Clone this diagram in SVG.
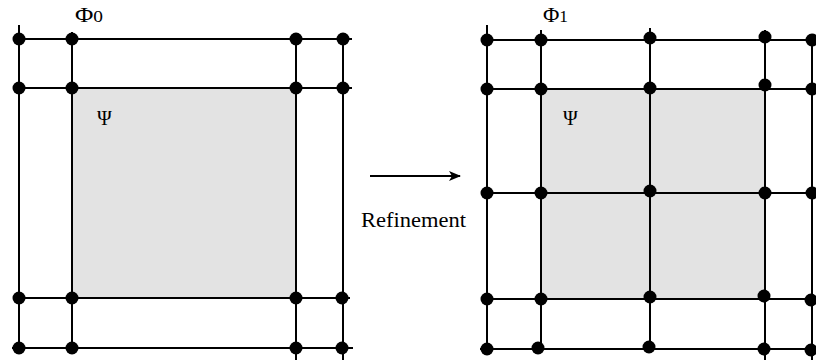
<svg xmlns="http://www.w3.org/2000/svg" width="816" height="364" viewBox="0 0 816 364">
<style>
.ln{stroke:#000;stroke-width:2;fill:none}
.sh{fill:#e3e3e3;stroke:none}
.dt{fill:#000}
.tx{font-family:"Liberation Serif","Times New Roman",serif;fill:#000}
</style>
<defs>
<marker id="ah" viewBox="0 0 12 10" refX="11" refY="5" markerWidth="12" markerHeight="10" markerUnits="userSpaceOnUse" orient="auto">
<path d="M0,0 L12,5 L0,10 L3,5 Z" fill="#000"/>
</marker>
</defs>
<rect width="816" height="364" fill="#fff"/>
<g id="psi0-region"><rect class="sh" x="72" y="88" width="224" height="210"/></g>
<g id="psi1-region"><rect class="sh" x="541" y="89" width="224" height="210"/></g>
<g id="connectors">
<path class="ln" d="M19,25V348 M72,32V348 M296,39V360 M343,39V360 M19,39H352 M19,88H352 M19,298H350 M12,348H353"/>
<path class="ln" d="M487,25V349 M541,30V349 M650,28V348 M765,30V360 M812,38V360 M487,40H816 M487,89H816 M487,193H816 M487,299H816 M480,349H816"/>
<line class="ln" x1="370" y1="176" x2="460" y2="176" marker-end="url(#ah)"/>
</g>
<g id="grid0-nodes" class="dt">
<circle cx="19" cy="39" r="6.5"/><circle cx="72" cy="39" r="6.5"/><circle cx="296" cy="39" r="6.5"/><circle cx="343" cy="39" r="6.5"/>
<circle cx="19" cy="88" r="6.5"/><circle cx="72" cy="88" r="6.5"/><circle cx="296" cy="88" r="6.5"/><circle cx="343" cy="88" r="6.5"/>
<circle cx="19" cy="298" r="6.5"/><circle cx="72" cy="298" r="6.5"/><circle cx="296" cy="298" r="6.5"/><circle cx="342" cy="298" r="6.5"/>
<circle cx="19" cy="348" r="6.5"/><circle cx="72" cy="348" r="6.5"/><circle cx="296" cy="348" r="6.5"/><circle cx="342" cy="348" r="6.5"/>
</g>
<g id="grid1-nodes" class="dt">
<circle cx="487" cy="40" r="6.5"/><circle cx="541" cy="40" r="6.5"/><circle cx="650" cy="38" r="6.5"/><circle cx="765" cy="37" r="6.5"/><circle cx="812" cy="40" r="6.5"/>
<circle cx="487" cy="89" r="6.5"/><circle cx="541" cy="89" r="6.5"/><circle cx="650" cy="88" r="6.5"/><circle cx="765" cy="85" r="6.5"/><circle cx="812" cy="89" r="6.5"/>
<circle cx="487" cy="193" r="6.5"/><circle cx="541" cy="193" r="6.5"/><circle cx="650" cy="191" r="6.5"/><circle cx="765" cy="193" r="6.5"/><circle cx="812" cy="193" r="6.5"/>
<circle cx="487" cy="299" r="6.5"/><circle cx="541" cy="299" r="6.5"/><circle cx="650" cy="297" r="6.5"/><circle cx="764" cy="296" r="6.5"/><circle cx="811" cy="300" r="6.5"/>
<circle cx="487" cy="349" r="6.5"/><circle cx="538" cy="348" r="6.5"/><circle cx="649" cy="347" r="6.5"/><circle cx="764" cy="349" r="6.5"/><circle cx="811" cy="350" r="6.5"/>
</g>
<g id="labels">
<text class="tx" x="75" y="22" font-size="22" textLength="28" lengthAdjust="spacingAndGlyphs">Φ<tspan font-size="17">0</tspan></text>
<text class="tx" x="97" y="125" font-size="20">Ψ</text>
<text class="tx" x="543" y="22" font-size="22" textLength="25" lengthAdjust="spacingAndGlyphs">Φ<tspan font-size="17">1</tspan></text>
<text class="tx" x="563" y="125" font-size="20">Ψ</text>
<text class="tx" x="361" y="227" font-size="20" textLength="105" lengthAdjust="spacingAndGlyphs">Refinement</text>
</g>
</svg>
